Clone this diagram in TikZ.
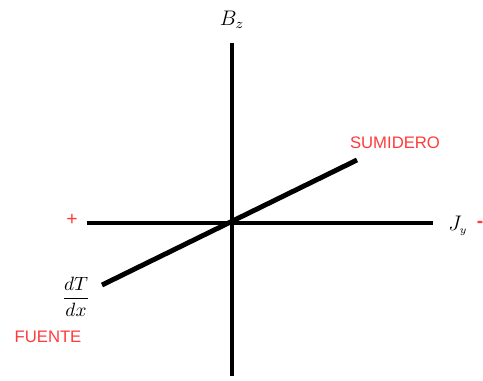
\documentclass[tikz,border=0pt]{standalone}
\usepackage{amsmath}
\usepackage{fontspec}
\setmainfont{Liberation Serif}
\setsansfont{Liberation Sans}
\usepackage{tikz}
\usetikzlibrary{positioning,calc}
\definecolor{redlbl}{HTML}{FF3B3B}
\definecolor{axis}{HTML}{000000}

\begin{document}
\begin{tikzpicture}[x=0.02cm,y=-0.02cm,font=\fontsize{12}{14}\selectfont]
  \useasboundingbox (0,0) rectangle (483,381);
  \coordinate (top) at (232,43);
  \coordinate (bot) at (232,376);
  \coordinate (left) at (87,223);
  \coordinate (right) at (433,223);
  \coordinate (src) at (102,285);
  \coordinate (snk) at (357,160);
  \draw[line width=2.8pt,axis] (top)--(bot);
  \draw[line width=2.8pt,axis] (left)--(right);
  \draw[line width=2.8pt,axis] (src)--(snk);
  \node (bz) at (232,20) {$B_z$};
  \node (jy) at (458,226) {$J_{\scriptscriptstyle y}$};
  \node[text=redlbl,font=\sffamily\bfseries\fontsize{11}{12}\selectfont] (minus) at (480,224) {-};
  \node[text=redlbl,font=\sffamily\fontsize{11}{12}\selectfont] (plus) at (72,220) {+};
  \node[text=redlbl,font=\sffamily\fontsize{9.5}{11}\selectfont] (sumidero) at (395,143) {SUMIDERO};
  \node[text=redlbl,font=\sffamily\fontsize{9.5}{11}\selectfont] (fuente) at (48,337) {FUENTE};
  \node[font=\fontsize{10.5}{12}\selectfont] (dtdx) at (76,297) {$\dfrac{dT}{dx}$};
\end{tikzpicture}
\end{document}
